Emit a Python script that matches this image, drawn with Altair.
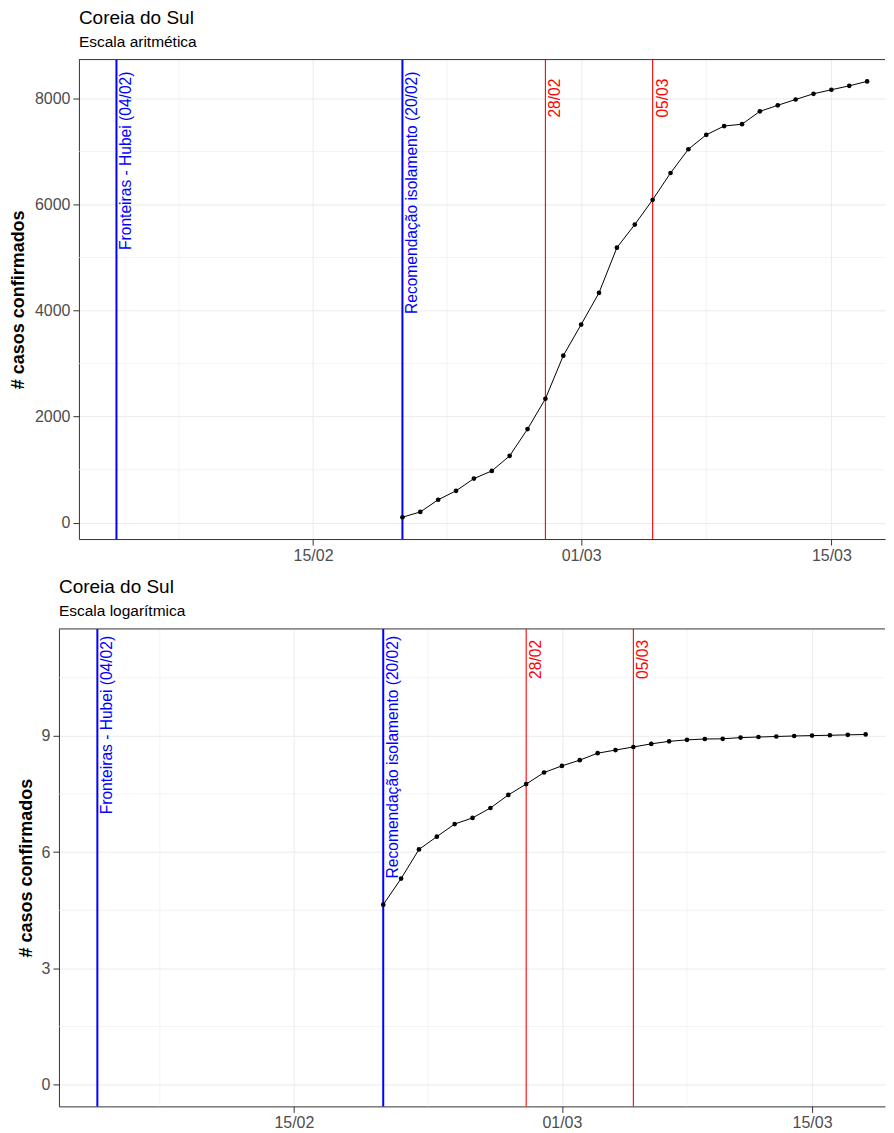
import altair as alt
import pandas as pd

FONT = "Liberation Sans"

# ---- data ----
datas = ["2020-02-20", "2020-02-21", "2020-02-22", "2020-02-23", "2020-02-24",
         "2020-02-25", "2020-02-26", "2020-02-27", "2020-02-28", "2020-02-29",
         "2020-03-01", "2020-03-02", "2020-03-03", "2020-03-04", "2020-03-05",
         "2020-03-06", "2020-03-07", "2020-03-08", "2020-03-09", "2020-03-10",
         "2020-03-11", "2020-03-12", "2020-03-13", "2020-03-14", "2020-03-15",
         "2020-03-16", "2020-03-17", "2020-03-18"]
casos = [104, 204, 433, 602, 833, 977, 1261, 1766, 2337, 3150,
         3736, 4335, 5186, 5621, 6088, 6593, 7041, 7313, 7478, 7513,
         7755, 7869, 7979, 8086, 8162, 8236, 8320, 8413]
n_aritmetica = 27  # the arithmetic panel ends on 17/03

medidas_datas = ["2020-02-04", "2020-02-20"]
medidas_rotulos = ["Fronteiras - Hubei (04/02)", "Recomendação isolamento (20/02)"]
marcos_datas = ["2020-02-28", "2020-03-05"]
marcos_rotulos = ["28/02", "05/03"]

x_ticks = [(2020, 2, 15), (2020, 3, 1), (2020, 3, 15)]
x_minor = ["2020-02-07T12:00:00Z", "2020-02-22T12:00:00Z", "2020-03-08T00:00:00Z"]
y_ticks_arit = [0, 2000, 4000, 6000, 8000]
y_minor_arit = [1000, 3000, 5000, 7000]
y_ticks_log = [0, 3, 6, 9]
y_minor_log = [1.5, 4.5, 7.5, 10.5]


def dt(y, m, d, h=0, mi=0):
    return alt.DateTime(year=y, month=m, date=d, hours=h, minutes=mi, utc=True)


def painel(df, expr, subtitulo, xdom, ydom, yticks, yminor, width, height,
           title_pad, dx_med, dx_marco):
    xs = alt.Scale(type="utc", domain=xdom, nice=False)
    ys = alt.Scale(domain=ydom, nice=False, zero=False)
    xaxis = alt.Axis(values=[dt(*t) for t in x_ticks], format="%d/%m", title=None,
                     labelFont=FONT, labelFontSize=16, labelColor="#4D4D4D",
                     labelPadding=2, labelFlush=False, labelOverlap=False,
                     tickColor="#333333", tickSize=6, tickWidth=1,
                     domainColor="#333333", domainWidth=1,
                     grid=True, gridColor="#EBEBEB", gridWidth=1)
    yaxis = alt.Axis(values=yticks, format="d", title="# casos confirmados",
                     titleFont=FONT, titleFontSize=18, titleFontWeight="bold",
                     titleColor="#000000", titlePadding=title_pad,
                     labelFont=FONT, labelFontSize=16, labelColor="#4D4D4D",
                     labelPadding=3, labelFlush=False,
                     tickColor="#333333", tickSize=6, tickWidth=1,
                     domainColor="#333333", domainWidth=1,
                     grid=True, gridColor="#EBEBEB", gridWidth=1)
    X = alt.X("data:T", scale=xs, axis=xaxis)
    Y = alt.Y("valor:Q", scale=ys, axis=yaxis)

    med = pd.DataFrame({"data": medidas_datas, "rotulo": medidas_rotulos})
    mar = pd.DataFrame({"data": marcos_datas, "rotulo": marcos_rotulos})

    grid_x = alt.Chart(pd.DataFrame({"data": x_minor})).mark_rule(
        color="#EBEBEB", strokeWidth=0.6).encode(x=X)
    grid_y = alt.Chart(pd.DataFrame({"valor": yminor})).mark_rule(
        color="#EBEBEB", strokeWidth=0.6).encode(y=Y)
    base = alt.Chart(df).transform_calculate(valor=expr)
    linha = base.mark_line(color="#000000", strokeWidth=1).encode(x=X, y=Y)
    pontos = base.mark_point(filled=True, color="#000000", opacity=1, size=22).encode(x=X, y=Y)
    reg_med = alt.Chart(med).mark_rule(color="#0000FF", strokeWidth=2).encode(x=X)
    reg_mar = alt.Chart(mar).mark_rule(color="#FF0000", strokeWidth=1.1).encode(x=X)
    txt_med = alt.Chart(med).mark_text(
        angle=270, align="right", baseline="top", dx=dx_med, dy=3,
        color="#0000FF", font=FONT, fontSize=15.6).encode(
        x=X, y=alt.value(0), text="rotulo:N")
    txt_mar = alt.Chart(mar).mark_text(
        angle=270, align="right", baseline="top", dx=dx_marco, dy=3,
        color="#FF0000", font=FONT, fontSize=15.6).encode(
        x=X, y=alt.value(0), text="rotulo:N")
    borda = alt.Chart(alt.Data(values=[{"v": 0}])).mark_rule(
        color="#333333", strokeWidth=1).encode(
        y=alt.value(0), x=alt.value(0), x2=alt.value(width))

    return alt.layer(grid_x, grid_y, reg_med, reg_mar, linha, pontos,
                     txt_med, txt_mar, borda).properties(
        width=width, height=height,
        title=alt.TitleParams(
            text="Coreia do Sul", subtitle=subtitulo, anchor="start", frame="group",
            font=FONT, fontSize=19, fontWeight="normal", color="#000000",
            subtitleFont=FONT, subtitleFontSize=15.5, subtitleColor="#000000",
            subtitlePadding=7, offset=8))


def espaco(w):
    # empty view used only to offset a panel horizontally
    return alt.Chart(alt.Data(values=[])).mark_point().encode(
        x=alt.value(0), y=alt.value(0)).properties(width=w, height=1)


df_arit = pd.DataFrame({"data": datas[:n_aritmetica], "casos": casos[:n_aritmetica]})
df_log = pd.DataFrame({"data": datas, "casos": casos})

top = painel(df_arit, "datum.casos", "Escala aritmética",
             [dt(2020, 2, 1, 21, 36), dt(2020, 3, 18, 0, 0)],
             [-307, 8731], y_ticks_arit, y_minor_arit, 807, 480, 7, -12, -19)
bottom = painel(df_log, "log(datum.casos)", "Escala logarítmica",
                [dt(2020, 2, 1, 20, 24), dt(2020, 3, 19, 2, 0)],
                [-0.56, 11.76], y_ticks_log, y_minor_log, 827, 478, 6, -7, -11)

chart = alt.vconcat(
    alt.hconcat(espaco(1), top, spacing=0),
    alt.hconcat(espaco(9), bottom, spacing=0),
    spacing=15,
).properties(padding=0).configure(font=FONT).configure_view(strokeWidth=0)

chart.save("out.html", embed_options={"renderer": "svg", "actions": False})
